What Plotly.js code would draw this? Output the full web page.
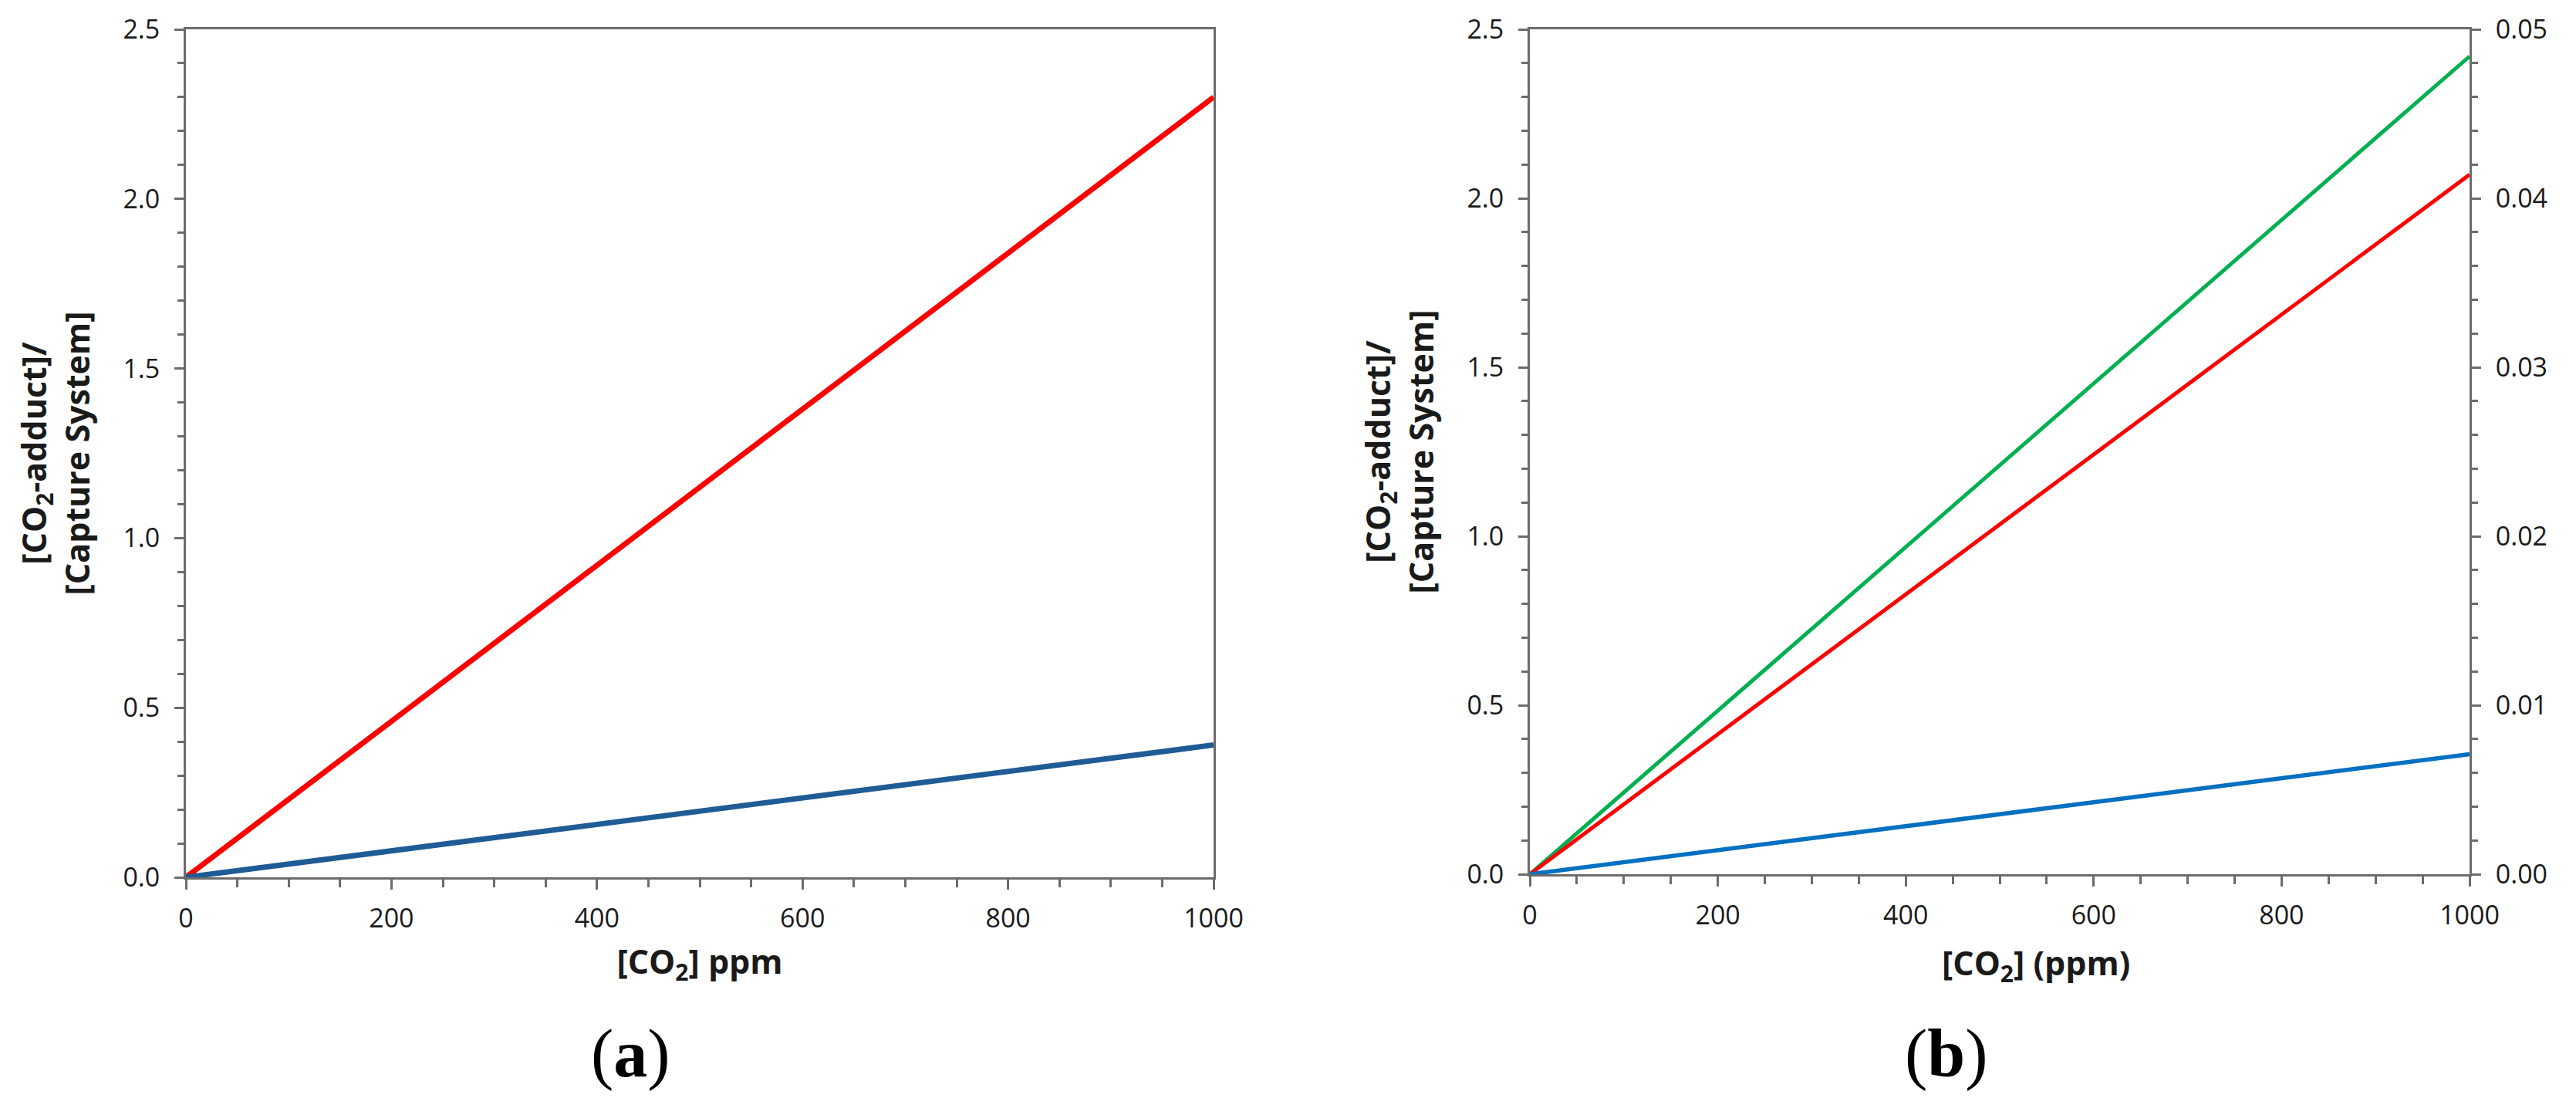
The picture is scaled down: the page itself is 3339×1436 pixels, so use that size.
<!DOCTYPE html>
<html>
<head>
<meta charset="utf-8">
<script src="https://cdn.plot.ly/plotly-3.0.1.min.js"></script>
<style>html,body{margin:0;padding:0;background:#fff;}#chart{width:3339px;height:1436px;}</style>
</head>
<body>
<div id="chart"></div>
<script>
// ---- data ----
const co2Ppm = [0, 1000];
// panel (a)
const aRed = [0, 2.30];
const aBlue = [0, 0.39];
// panel (b)
const bGreen = [0, 2.42];
const bRed = [0, 2.07];
const bBlueRight = [0, 0.0071];   // read against the right-hand axis
// tick labels
const xTickVals = [0, 200, 400, 600, 800, 1000];
const yTickVals = [0, 0.5, 1.0, 1.5, 2.0, 2.5];
const y2TickVals = [0, 0.01, 0.02, 0.03, 0.04, 0.05];
// titles
const yTitle = '[CO<sub>2</sub>-adduct]/<br>[Capture System]';
const xTitleA = '[CO<sub>2</sub>] ppm';
const xTitleB = '[CO<sub>2</sub>] (ppm)';
const panelLabels = ['(<b>a</b>)', '(<b>b</b>)'];

const W = 3339, H = 1436;
const axisCol = '#6c6c6c';
const tickFont = {family: 'Open Sans', size: 34, color: '#1a1a1a'};
const titleFont = {family: 'Open Sans', size: 43, color: '#1a1a1a', weight: 700};

function xAxis(domain, anchor, title) {
  const ax = {
    domain: domain, anchor: anchor, range: [0, 1000],
    tickmode: 'array', tickvals: xTickVals, ticktext: xTickVals.map(String),
    ticks: 'outside', ticklen: 13, tickwidth: 3, tickcolor: axisCol,
    minor: {dtick: 50, tick0: 0, ticks: 'outside', ticklen: 10, tickwidth: 3, tickcolor: axisCol, showgrid: false},
    showline: true, linecolor: axisCol, linewidth: 3, mirror: true,
    showgrid: false, zeroline: false, tickfont: tickFont, ticklabelstandoff: 8,
    fixedrange: true
  };
  if (title) ax.title = {text: title, font: titleFont, standoff: 22};
  return ax;
}
function yAxis(domain, anchor, withTitle) {
  const ax = {
    domain: domain, anchor: anchor, range: [0, 2.5],
    tickmode: 'array', tickvals: yTickVals, ticktext: yTickVals.map(v => v.toFixed(1)),
    ticks: 'outside', ticklen: 12, tickwidth: 3, tickcolor: axisCol,
    minor: {dtick: 0.1, tick0: 0, ticks: 'outside', ticklen: 8, tickwidth: 3, tickcolor: axisCol, showgrid: false},
    showline: true, linecolor: axisCol, linewidth: 3, mirror: true,
    showgrid: false, zeroline: false, tickfont: tickFont, ticklabelstandoff: 12,
    fixedrange: true
  };
  if (withTitle) ax.title = {text: yTitle, font: titleFont, standoff: 30};
  return ax;
}

const xa = [241 / W, 1573 / W];
const xb = [1983 / W, 3201 / W];
const ya = [1 - 1137 / H, 1 - 38 / H];
const yb = [1 - 1133 / H, 1 - 38 / H];

const traces = [
  {x: co2Ppm, y: aRed, xaxis: 'x', yaxis: 'y', mode: 'lines', line: {color: '#ff0000', width: 7}},
  {x: co2Ppm, y: aBlue, xaxis: 'x', yaxis: 'y', mode: 'lines', line: {color: '#1f5c96', width: 7}},
  {x: co2Ppm, y: bGreen, xaxis: 'x2', yaxis: 'y2', mode: 'lines', line: {color: '#00b050', width: 5}},
  {x: co2Ppm, y: bRed, xaxis: 'x2', yaxis: 'y2', mode: 'lines', line: {color: '#ff0000', width: 5}},
  {x: co2Ppm, y: bBlueRight, xaxis: 'x2', yaxis: 'y3', mode: 'lines', line: {color: '#0070c0', width: 5.5}}
];

const layout = {
  width: W, height: H,
  margin: {l: 0, r: 0, t: 0, b: 0},
  paper_bgcolor: '#ffffff', plot_bgcolor: '#ffffff',
  showlegend: false,
  xaxis: xAxis(xa, 'y', xTitleA),
  yaxis: yAxis(ya, 'x', true),
  xaxis2: xAxis(xb, 'y2', null),
  yaxis2: yAxis(yb, 'x2', true),
  yaxis3: {
    overlaying: 'y2', side: 'right', anchor: 'x2', range: [0, 0.05],
    tickmode: 'array', tickvals: y2TickVals, ticktext: y2TickVals.map(v => v.toFixed(2)),
    ticks: 'outside', ticklen: 12, tickwidth: 3, tickcolor: axisCol,
    minor: {dtick: 0.002, tick0: 0, ticks: 'outside', ticklen: 8, tickwidth: 3, tickcolor: axisCol, showgrid: false},
    showline: true, linecolor: axisCol, linewidth: 3,
    showgrid: false, zeroline: false, tickfont: tickFont, ticklabelstandoff: 12,
    fixedrange: true
  },
  annotations: [
    {text: xTitleB, xref: 'paper', yref: 'paper', x: 2639 / W, y: 1 - 1250 / H,
     xanchor: 'center', yanchor: 'middle', showarrow: false, font: titleFont},
    {text: panelLabels[0], xref: 'paper', yref: 'paper', x: 817 / W, y: 1 - 1365 / H,
     xanchor: 'center', yanchor: 'middle', showarrow: false,
     font: {family: 'Liberation Serif', size: 88, color: '#000000'}},
    {text: panelLabels[1], xref: 'paper', yref: 'paper', x: 2523 / W, y: 1 - 1365 / H,
     xanchor: 'center', yanchor: 'middle', showarrow: false,
     font: {family: 'Liberation Serif', size: 88, color: '#000000'}}
  ]
};

Plotly.newPlot('chart', traces, layout, {staticPlot: true, displayModeBar: false});
</script>
</body>
</html>
